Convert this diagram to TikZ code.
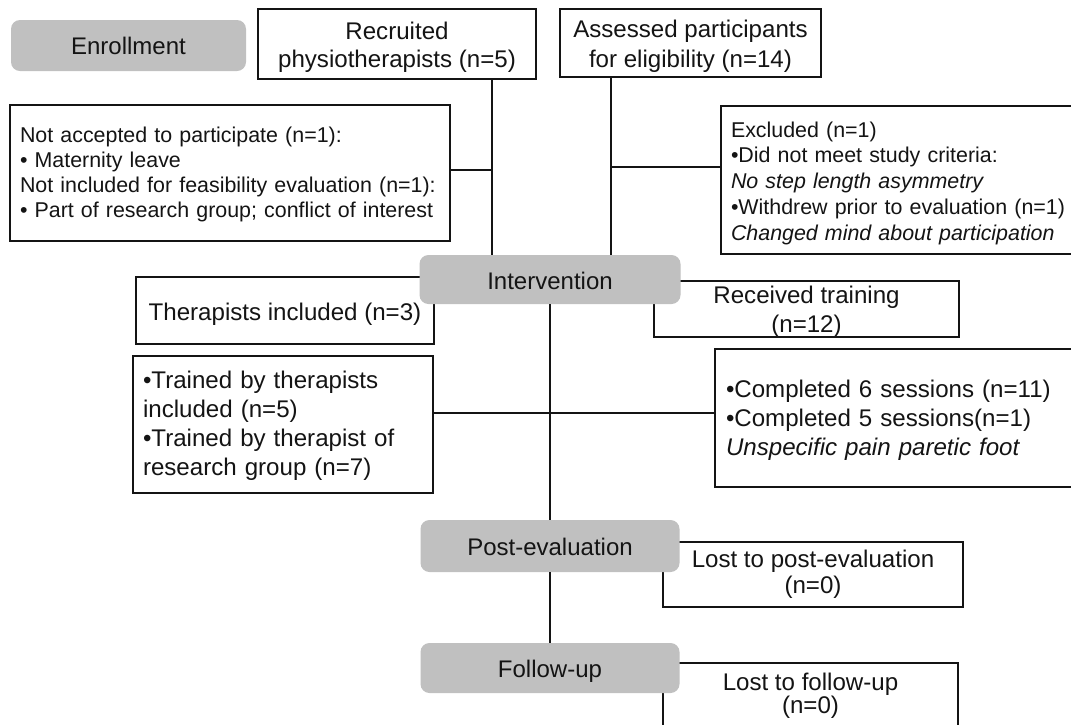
\documentclass[tikz,border=0pt]{standalone}
\usepackage{fontspec}
\setmainfont{Liberation Sans}
\definecolor{gboxfill}{RGB}{192,192,192}
\definecolor{ink}{RGB}{20,20,20}
\tikzset{
  wbox/.style={draw=ink, line width=1.7pt, fill=white, rectangle, inner ysep=0pt, inner xsep=0pt, outer sep=0pt, anchor=north, text=ink},
  gbox/.style={draw=none, fill=gboxfill, rounded corners=9pt, inner sep=0pt, outer sep=0pt, anchor=north, text=ink, font=\fontsize{24}{28}\selectfont},
  big/.style={font=\fontsize{24.1}{#1}\selectfont},
  small/.style={font=\fontsize{21.4}{#1}\selectfont},
  link/.style={draw=ink, line width=1.7pt},
}
\begin{document}
\begin{tikzpicture}[x=1pt, y=-1pt]
\useasboundingbox (0,0) rectangle (1071,724);
\fill[white] (0,0) rectangle (1071,724);

% white boxes
\node[wbox, big=28, align=center, minimum width=278, text height=58, text depth=12] (recruit) at (397,9) {Recruited\\physiotherapists (n=5)};
\node[wbox, big=30, align=center, minimum width=261, text height=58, text depth=10] (assess) at (690.5,9) {Assessed participants\\for eligibility (n=14)};
\node[wbox, small=25.3, align=left, minimum width=440, text width=420, inner xsep=10pt, text height=37, text depth=99] (notacc) at (230,105) {\mbox{Not accepted to participate (n=1):}\\\mbox{\textbullet{} Maternity leave}\\\mbox{Not included for feasibility evaluation (n=1):}\\\mbox{\textbullet{} Part of research group; conflict of interest}};
\node[wbox, small=25.75, align=left, minimum width=364, text width=344, inner xsep=10pt, text height=31, text depth=117] (excl) at (903,106) {Excluded (n=1)\\\textbullet Did not meet study criteria:\\\textit{No step length asymmetry}\\\mbox{\textbullet Withdrew prior to evaluation (n=1)}\\\textit{Changed mind about participation}};
\node[wbox, big=29, align=center, minimum width=298, text height=43, text depth=24] (therap) at (285,277) {Therapists included (n=3)};
\node[wbox, big=29.3, align=left, minimum width=300, text width=280, inner xsep=10pt, text height=32, text depth=105] (trained) at (283,356) {\textbullet Trained by therapists\\included (n=5)\\\textbullet Trained by therapist of\\research group (n=7)};
\node[wbox, big=29, align=center, minimum width=305, text height=51, text depth=5] (recv) at (806.5,281) {Received training\\(n=12)};
\node[wbox, big=29, align=left, minimum width=370, text width=348, inner xsep=11pt, text height=48, text depth=90] (compl) at (900,349) {\mbox{\textbullet Completed 6 sessions (n=11)}\\\mbox{\textbullet Completed 5 sessions(n=1)}\\\textit{Unspecific pain paretic foot}};
\node[wbox, big=26, align=center, minimum width=300, text height=51, text depth=14] (lostpe) at (813,542) {Lost to post-evaluation\\(n=0)};
\node[wbox, big=23, align=center, minimum width=295, text height=50, text depth=32] (lostfu) at (810.5,663) {Lost to follow-up\\(n=0)};

% grey stage boxes
\node[gbox, minimum width=235, text height=34, text depth=17] (enroll) at (128.5,20) {Enrollment};
\node[gbox, minimum width=261, text height=34, text depth=15] (interv) at (550,255) {Intervention};
\node[gbox, minimum width=259, text height=35, text depth=17] (post) at (550,520) {Post-evaluation};
\node[gbox, minimum width=259, text height=34, text depth=16] (follow) at (550,643) {Follow-up};

% connectors
\coordinate (jR) at (492,170);
\coordinate (jA) at (611,167);
\coordinate (jM) at (550,413);
\draw[link] (recruit.south -| jR) -- (interv.north -| jR);
\draw[link] (notacc.east |- jR) -- (jR);
\draw[link] (assess.south -| jA) -- (interv.north -| jA);
\draw[link] (jA) -- (excl.west |- jA);
\draw[link] (interv.south) -- (post.north);
\draw[link] (trained.east |- jM) -- (compl.west |- jM);
\draw[link] (post.south) -- (follow.north);
\end{tikzpicture}
\end{document}
